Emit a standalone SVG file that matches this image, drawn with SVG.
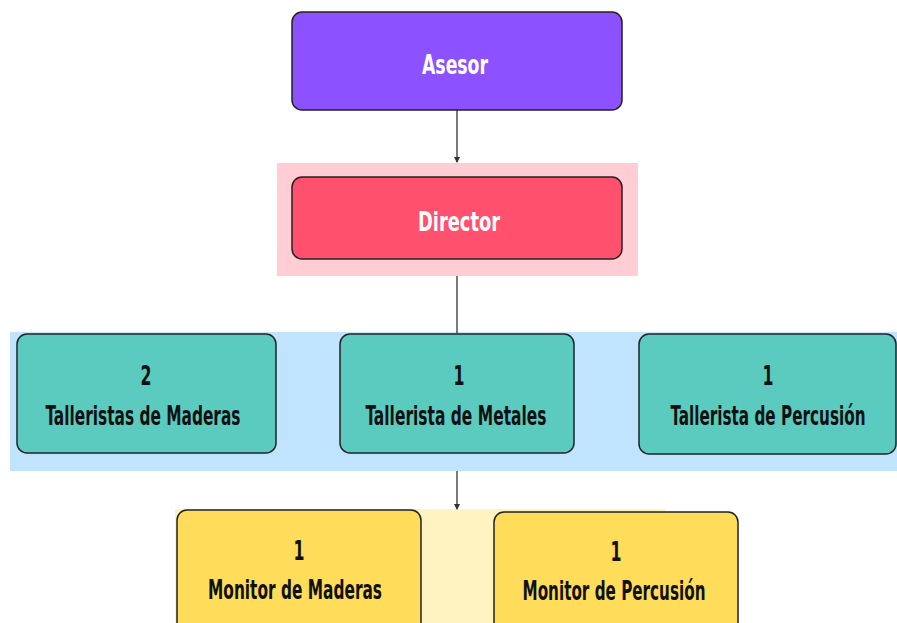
<svg xmlns="http://www.w3.org/2000/svg" width="897" height="623" viewBox="0 0 897 623">
<style>
.box{stroke:#222;stroke-width:1.5}
.t{font-family:"DejaVu Sans Condensed","DejaVu Sans",sans-serif;font-size:27px;font-weight:bold;text-anchor:middle}
.w{fill:#ffffff}
.k{fill:#111111}
.c{stroke:#333;stroke-width:1.3;fill:none}
</style>
<defs>
<marker id="ah" viewBox="0 0 6 6" refX="5" refY="3" markerWidth="6" markerHeight="6" markerUnits="userSpaceOnUse" orient="auto">
<path d="M0,0 L6,3 L0,6 z" fill="#333"/>
</marker>
</defs>
<rect width="897" height="623" fill="#ffffff"/>
<rect x="277" y="163" width="361" height="113" fill="#ffcdd3"/>
<rect x="10" y="332" width="887" height="139" fill="#c0e4fd"/>
<rect x="175" y="509" width="490" height="114" fill="#fff3c2"/>
<g id="connectors">
<line class="c" x1="457" y1="110" x2="457" y2="162" marker-end="url(#ah)"/>
<line class="c" x1="457" y1="276" x2="457" y2="333"/>
<line class="c" x1="457" y1="471" x2="457" y2="509" marker-end="url(#ah)"/>
</g>
<g id="asesor">
<rect class="box" x="292" y="12" width="330" height="98" rx="10" fill="#8c52ff"/>
<text class="t w" x="455" y="74" textLength="66" lengthAdjust="spacingAndGlyphs">Asesor</text>
</g>
<g id="director">
<rect class="box" x="292" y="177" width="330" height="82" rx="10" fill="#ff516d"/>
<text class="t w" x="459" y="231" textLength="82" lengthAdjust="spacingAndGlyphs">Director</text>
</g>
<g id="talleristas-maderas">
<rect class="box" x="17" y="334" width="259" height="119" rx="10" fill="#5ccbbf"/>
<text class="t k" x="146" y="385" textLength="11" lengthAdjust="spacingAndGlyphs">2</text>
<text class="t k" x="143" y="425" textLength="195" lengthAdjust="spacingAndGlyphs">Talleristas de Maderas</text>
</g>
<g id="tallerista-metales">
<rect class="box" x="340" y="334" width="234" height="119" rx="10" fill="#5ccbbf"/>
<text class="t k" x="459" y="385" textLength="11" lengthAdjust="spacingAndGlyphs">1</text>
<text class="t k" x="456" y="425" textLength="181" lengthAdjust="spacingAndGlyphs">Tallerista de Metales</text>
</g>
<g id="tallerista-percusion">
<rect class="box" x="639" y="334" width="257" height="120" rx="10" fill="#5ccbbf"/>
<text class="t k" x="768" y="385" textLength="11" lengthAdjust="spacingAndGlyphs">1</text>
<text class="t k" x="768" y="425" textLength="195" lengthAdjust="spacingAndGlyphs">Tallerista de Percusión</text>
</g>
<g id="monitor-maderas">
<rect class="box" x="177" y="510" width="244" height="125" rx="10" fill="#ffdd5a"/>
<text class="t k" x="299" y="560" textLength="11" lengthAdjust="spacingAndGlyphs">1</text>
<text class="t k" x="295" y="599" textLength="174" lengthAdjust="spacingAndGlyphs">Monitor de Maderas</text>
</g>
<g id="monitor-percusion">
<rect class="box" x="494" y="512" width="244" height="123" rx="10" fill="#ffdd5a"/>
<text class="t k" x="616" y="561" textLength="11" lengthAdjust="spacingAndGlyphs">1</text>
<text class="t k" x="614" y="600" textLength="183" lengthAdjust="spacingAndGlyphs">Monitor de Percusión</text>
</g>
</svg>
